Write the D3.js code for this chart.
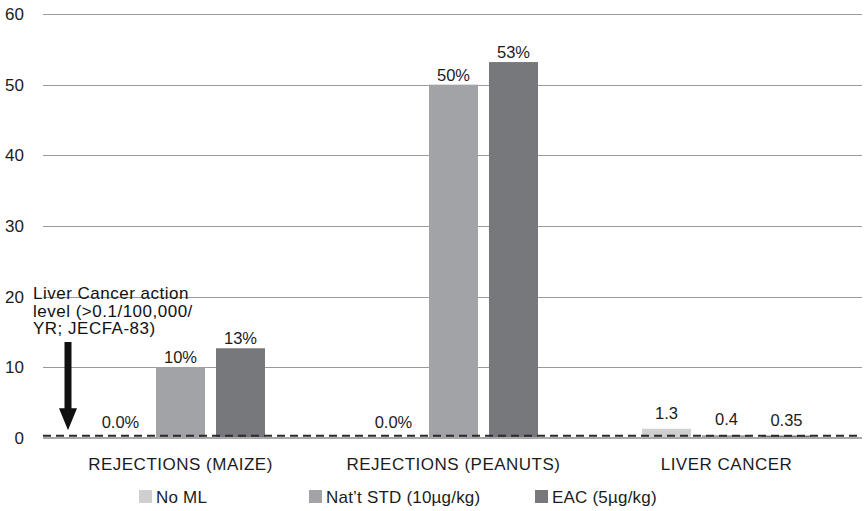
<!DOCTYPE html>
<html>
<head>
<meta charset="utf-8">
<script src="https://cdn.jsdelivr.net/npm/d3@7"></script>
<style>
  body { margin: 0; background: #fff; }
  text { font-family: "Liberation Sans", Arial, Helvetica, sans-serif; fill: #1c1c1c; }
</style>
</head>
<body>
<div id="chart"></div>
<script>
// Data
var categories = ["REJECTIONS (MAIZE)", "REJECTIONS (PEANUTS)", "LIVER CANCER"];
var seriesNames = ["No ML", "Nat\u2019t STD (10\u00b5g/kg)", "EAC (5\u00b5g/kg)"];
var noMlValues = [0, 0, 1.3];
var natStdValues = [10, 50, 0.4];
var eacValues = [12.7, 53.2, 0.35];
var noMlLabels = ["0.0%", "0.0%", "1.3"];
var natStdLabels = ["10%", "50%", "0.4"];
var eacLabels = ["13%", "53%", "0.35"];
var yTicks = [0, 10, 20, 30, 40, 50, 60];
var actionLevel = 0.4;
var noteLines = ["Liver Cancer action", "level (>0.1/100,000/", "YR; JECFA-83)"];

var seriesColors = ["#cfcfd0", "#a2a3a6", "#77787c"];

var W = 867, H = 511;
var plot = {left: 43, right: 862, top: 14, bottom: 438};

var svg = d3.select("#chart").append("svg")
    .attr("width", W)
    .attr("height", H);

var y = d3.scaleLinear()
    .domain([0, 60])
    .range([plot.bottom, plot.top]);

// Outer band for categories, inner band for the 3 series
var x0 = d3.scaleBand()
    .domain(categories)
    .range([plot.left + 1, plot.right + 1])
    .paddingInner(104 / 273)
    .paddingOuter(52 / 273);

var x1 = d3.scaleBand()
    .domain(seriesNames)
    .range([0, x0.bandwidth()])
    .paddingInner(11 / 60)
    .paddingOuter(0);

// Gridlines
svg.append("g").selectAll("line")
    .data(yTicks.filter(function(d) { return d > 0; }))
    .enter().append("line")
    .attr("x1", plot.left)
    .attr("x2", plot.right)
    .attr("y1", function(d) { return Math.round(y(d)) + 0.5; })
    .attr("y2", function(d) { return Math.round(y(d)) + 0.5; })
    .attr("stroke", "#9a9a9a")
    .attr("stroke-width", 1);

// Y tick labels
svg.append("g").selectAll("text")
    .data(yTicks)
    .enter().append("text")
    .attr("x", 24)
    .attr("y", function(d) { return y(d); })
    .attr("dy", "0.36em")
    .attr("text-anchor", "end")
    .style("font-size", "17px")
    .text(function(d) { return d; });

// Bars
var rows = [
    {values: noMlValues, labels: noMlLabels},
    {values: natStdValues, labels: natStdLabels},
    {values: eacValues, labels: eacLabels}
];

var barData = [];
rows.forEach(function(r, si) {
    categories.forEach(function(c, ci) {
        barData.push({cat: c, series: seriesNames[si], si: si, value: r.values[ci], label: r.labels[ci]});
    });
});

svg.append("g").selectAll("rect")
    .data(barData)
    .enter().append("rect")
    .attr("x", function(d) { return x0(d.cat) + x1(d.series); })
    .attr("y", function(d) { return y(d.value); })
    .attr("width", x1.bandwidth())
    .attr("height", function(d) { return y(0) - y(d.value); })
    .attr("fill", function(d) { return seriesColors[d.si]; });

svg.append("g").selectAll("text")
    .data(barData)
    .enter().append("text")
    .attr("x", function(d) { return x0(d.cat) + x1(d.series) + x1.bandwidth() / 2; })
    .attr("y", function(d) { return y(d.value) - (d.value < 5 ? 10 : 4); })
    .attr("text-anchor", "middle")
    .style("font-size", "16.5px")
    .text(function(d) { return d.label; });

// X axis baseline
svg.append("line")
    .attr("x1", plot.left)
    .attr("x2", plot.right)
    .attr("y1", y(0))
    .attr("y2", y(0))
    .attr("stroke", "#a8a8a8")
    .attr("stroke-width", 2);

// Action level dashed line
svg.append("line")
    .attr("x1", plot.left)
    .attr("x2", plot.right)
    .attr("y1", y(actionLevel) + 0.5)
    .attr("y2", y(actionLevel) + 0.5)
    .attr("stroke", "#2a2a2a")
    .attr("stroke-width", 2)
    .attr("stroke-dasharray", "8,5");

// Category labels
svg.append("g").selectAll("text")
    .data(categories)
    .enter().append("text")
    .attr("x", function(d) { return x0(d) + x0.bandwidth() / 2; })
    .attr("y", 470)
    .attr("text-anchor", "middle")
    .style("font-size", "17px")
    .style("letter-spacing", "0.5px")
    .text(function(d) { return d; });

// Annotation text and arrow
svg.append("g").selectAll("text")
    .data(noteLines)
    .enter().append("text")
    .attr("x", 33)
    .attr("y", function(d, i) { return 299 + i * 17.5; })
    .style("font-size", "17px")
    .style("letter-spacing", "0.5px")
    .style("fill", "#111")
    .text(function(d) { return d; });

var arrowX = 68;
var tipY = y(actionLevel) - 5;
svg.append("path")
    .attr("d", "M" + (arrowX - 3.5) + ",342 H" + (arrowX + 3.5) +
        " V" + (tipY - 22) + " H" + (arrowX + 9) +
        " L" + arrowX + "," + tipY +
        " L" + (arrowX - 9) + "," + (tipY - 22) +
        " H" + (arrowX - 3.5) + " Z")
    .attr("fill", "#111");

// Legend
var legendX = [139, 309, 535];
var legend = svg.append("g").selectAll("g")
    .data(seriesNames)
    .enter().append("g")
    .attr("transform", function(d, i) { return "translate(" + legendX[i] + ",490)"; });

legend.append("rect")
    .attr("width", 13)
    .attr("height", 13)
    .attr("fill", function(d, i) { return seriesColors[i]; });

legend.append("text")
    .attr("x", 17)
    .attr("y", 13)
    .style("font-size", "17px")
    .style("letter-spacing", "0.2px")
    .text(function(d) { return d; });
</script>
</body>
</html>
